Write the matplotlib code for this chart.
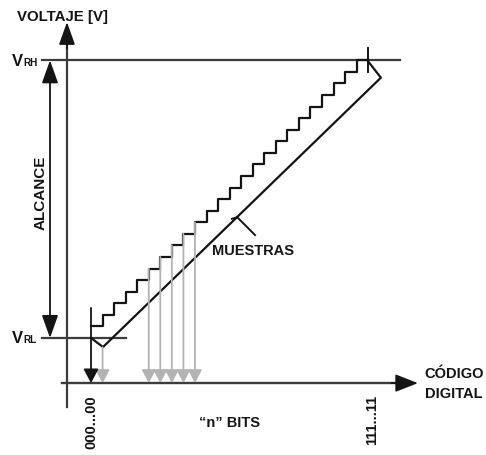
import numpy as np
import matplotlib
matplotlib.use("Agg")
import matplotlib.pyplot as plt

plt.rcParams['font.family'] = ['Liberation Sans', 'DejaVu Sans']

# diagram units: x = digital code (0 = 000...00, 24 = 111...11), y = voltage in LSB (VRL = 0)
codes = [0, 1, 2, 3, 4, 5, 6, 7, 8, 9, 10, 11, 12, 13, 14, 15, 16, 17, 18, 19, 20, 21, 22, 23, 24]
step_levels = [1, 2, 3, 4, 5, 6, 7, 8, 9, 10, 11, 12, 13, 14, 15, 16, 17, 18, 19, 20, 21, 22, 23, 24, 24]
v_rl = 0
v_rh = 24
code_min = 0
code_max = 24

# sampled points dropped onto the code axis
sample_codes = [1, 5, 6, 7, 8, 9]
sample_tops = [-0.8, 6, 7, 8, 9, 10]

# "MUESTRAS" outline
muestras_x = [0, 1.04, 25.1, 24.0]
muestras_y = [0, -0.78, 22.5, 23.9]

# axes of the diagram
x_axis_y = -3.9
y_axis_x = -2.08
alcance_x = -3.55

ink = '#141414'
axis_col = '#3c3c3c'
gray = '#b3b3b3'

fig = plt.figure(figsize=(4.86, 4.55), dpi=100)
ax = fig.add_axes([0, 0, 1, 1])
ax.set_xlim(-91 / 11.55, (486 - 91) / 11.55)
ax.set_ylim((338 - 455) / 11.57, 338 / 11.57)
ax.axis('off')


def arrow(x0, y0, x1, y1, color, lw, hl, hw, style='-|>'):
    ax.annotate('', xy=(x1, y1), xytext=(x0, y0),
                arrowprops=dict(arrowstyle=f'{style},head_length={hl},head_width={hw}',
                                color=color, lw=lw, shrinkA=0, shrinkB=0,
                                mutation_scale=10))


# reference lines
ax.plot([-4.24, 26.75], [v_rh, v_rh], color=axis_col, lw=1.6)
ax.plot([-4.2, 3.03], [v_rl, v_rl], color=axis_col, lw=1.6)
ax.plot([code_max, code_max], [23.0, 25.06], color=ink, lw=1.4)

# main axes
ax.plot([y_axis_x, y_axis_x], [-5.96, 26.0], color=axis_col, lw=1.6)
arrow(y_axis_x, 25.0, y_axis_x, 27.3, ink, 1.2, 1.4, 0.5)
ax.plot([-2.5, 27.0], [x_axis_y, x_axis_y], color=axis_col, lw=1.7)
arrow(26.0, x_axis_y, 28.3, x_axis_y, ink, 1.2, 1.4, 0.55)

# alcance double arrow
arrow(alcance_x, v_rl, alcance_x, v_rh, ink, 1.3, 1.4, 0.5, style='<|-|>')

# gray sample arrows
for xc, top in zip(sample_codes, sample_tops):
    arrow(xc, top, xc, x_axis_y, gray, 1.3, 0.8, 0.42)

# black arrow at code 000...00
arrow(code_min, 2.6, code_min, x_axis_y, ink, 1.3, 0.85, 0.45)

# staircase
ax.step(codes, step_levels, where='post', color=ink, lw=1.6)

# samples outline
ax.plot(muestras_x, muestras_y, color=ink, lw=1.6, solid_joinstyle='round')
ax.plot([12.64, 14.2], [10.46, 8.9], color=ink, lw=1.4)
ax.plot([12.2, 12.7], [10.3, 10.45], color=ink, lw=1.4)

# text
fb = dict(fontweight='bold', color=ink)
ax.text(-6.41, 27.74, 'VOLTAJE [V]', fontsize=10.8, ha='left', va='center', **fb)
ax.text(-6.84, 23.5, 'V', fontsize=12, ha='left', va='baseline', **fb)
ax.text(-5.85, 23.5, 'RH', fontsize=7.2, ha='left', va='baseline', **fb)
ax.text(-6.84, -0.43, 'V', fontsize=12, ha='left', va='baseline', **fb)
ax.text(-5.85, -0.43, 'RL', fontsize=7.2, ha='left', va='baseline', **fb)
ax.text(-4.33, 12.53, 'ALCANCE', fontsize=11, rotation=90, ha='center', va='center', **fb)
ax.text(10.48, 7.52, 'MUESTRAS', fontsize=10.5, ha='left', va='center', **fb)
ax.text(28.9, -3.11, 'CÓDIGO', fontsize=10.5, ha='left', va='center', **fb)
ax.text(28.95, -4.84, 'DIGITAL', fontsize=10.5, ha='left', va='center', **fb)
ax.text(code_min, -4.93, '000...00', fontsize=10.5, rotation=90, ha='center', va='top', **fb)
ax.text(24.33, -4.93, '111...11', fontsize=10.5, rotation=90, ha='center', va='top', **fb)
ax.text(12.03, -7.35, '\u201cn\u201d BITS', fontsize=10.5, ha='center', va='center', **fb)

fig.savefig('out.png', dpi=100)
